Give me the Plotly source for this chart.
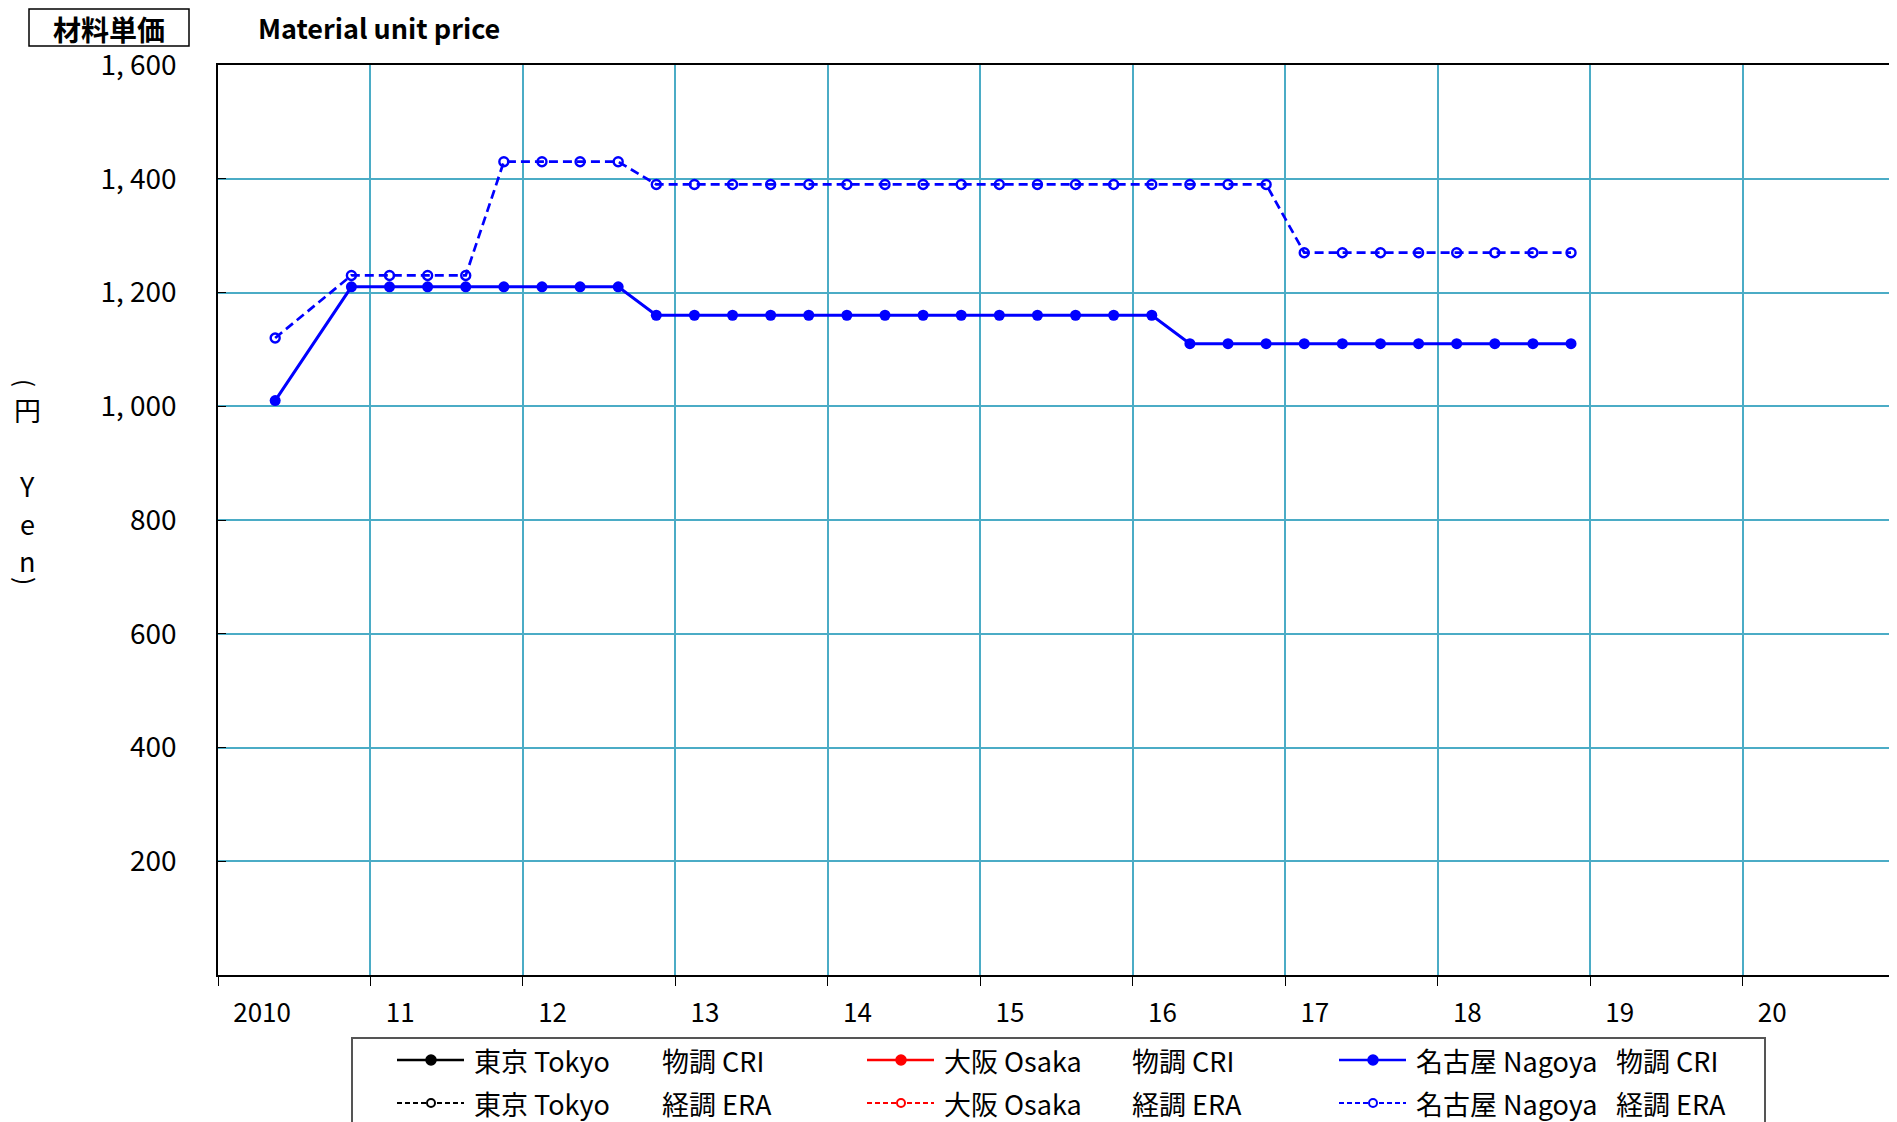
import plotly.graph_objects as go

# ---------------- data ----------------
quarters = ["2010Q2", "2010Q4",
            "2011Q1", "2011Q2", "2011Q3", "2011Q4",
            "2012Q1", "2012Q2", "2012Q3", "2012Q4",
            "2013Q1", "2013Q2", "2013Q3", "2013Q4",
            "2014Q1", "2014Q2", "2014Q3", "2014Q4",
            "2015Q1", "2015Q2", "2015Q3", "2015Q4",
            "2016Q1", "2016Q2", "2016Q3", "2016Q4",
            "2017Q1", "2017Q2", "2017Q3", "2017Q4",
            "2018Q1", "2018Q2", "2018Q3", "2018Q4"]

nagoya_cri = [1010, 1210,
              1210, 1210, 1210, 1210,
              1210, 1210, 1210, 1160,
              1160, 1160, 1160, 1160,
              1160, 1160, 1160, 1160,
              1160, 1160, 1160, 1160,
              1160, 1110, 1110, 1110,
              1110, 1110, 1110, 1110,
              1110, 1110, 1110, 1110]

nagoya_era = [1120, 1230,
              1230, 1230, 1230, 1430,
              1430, 1430, 1430, 1390,
              1390, 1390, 1390, 1390,
              1390, 1390, 1390, 1390,
              1390, 1390, 1390, 1390,
              1390, 1390, 1390, 1390,
              1270, 1270, 1270, 1270,
              1270, 1270, 1270, 1270]

tokyo_cri = []
tokyo_era = []
osaka_cri = []
osaka_era = []

year_ticks = [2010, 2011, 2012, 2013, 2014, 2015, 2016, 2017, 2018, 2019, 2020, 2021]
year_labels = ["2010", "11", "12", "13", "14", "15", "16", "17", "18", "19", "20", ""]

y_ticks = [200, 400, 600, 800, 1000, 1200, 1400, 1600]
y_tick_labels = ["200", "400", "600", "800", "1, 000", "1, 200", "1, 400", "1, 600"]

places = ["東京 Tokyo", "大阪 Osaka", "名古屋 Nagoya"]
kinds = ["物調 CRI", "経調 ERA"]

# ---------------- helpers ----------------
def q_to_x(q):
    year = int(q[:4])
    qn = int(q[-1])
    return year + (qn - 0.5) / 4.0

FONT = "Noto Sans CJK JP"
GRID = "#4BACC6"
OFF = 8                      # page body margin
W, H = 1897 - OFF, 1122 - OFF
ML, MR, MT, MB = 218 - OFF, 2, 65 - OFF, 147
PW, PH = W - ML - MR, H - MT - MB


def pxx(x):                  # page pixel x -> paper
    return (x - OFF - ML) / PW


def pxy(y):                  # page pixel y -> paper
    return (H - MB - (y - OFF)) / PH


xq = [q_to_x(q) for q in quarters]

fig = go.Figure()

series = [
    ("東京 Tokyo 物調 CRI", tokyo_cri, "black", "solid"),
    ("大阪 Osaka 物調 CRI", osaka_cri, "red", "solid"),
    ("東京 Tokyo 経調 ERA", tokyo_era, "black", "dash"),
    ("大阪 Osaka 経調 ERA", osaka_era, "red", "dash"),
    ("名古屋 Nagoya 経調 ERA", nagoya_era, "blue", "dash"),
    ("名古屋 Nagoya 物調 CRI", nagoya_cri, "blue", "solid"),
]

for name, vals, col, style in series:
    xs = xq[:len(vals)]
    if style == "solid":
        fig.add_trace(go.Scatter(
            x=xs, y=vals, name=name, mode="lines+markers",
            line=dict(color=col, width=3),
            marker=dict(color=col, size=11, symbol="circle"),
            showlegend=False))
    else:
        fig.add_trace(go.Scatter(
            x=xs, y=vals, name=name, mode="lines+markers",
            line=dict(color=col, width=2.7, dash="9px,5px"),
            marker=dict(color=col, size=9, symbol="circle-open",
                        line=dict(color=col, width=2.4)),
            showlegend=False))

# ---------------- axes ----------------
fig.update_layout(
    width=W, height=H,
    margin=dict(l=ML, r=MR, t=MT, b=MB, autoexpand=False),
    paper_bgcolor="white", plot_bgcolor="white",
    font=dict(family=FONT, color="black"),
    xaxis=dict(range=[2010, 2021], tickmode="array", tickvals=year_ticks,
               ticktext=year_labels, ticks="outside", ticklen=9,
               tickcolor="black", tickwidth=1,
               showline=True, linecolor="black", linewidth=1.5, mirror=True,
               showgrid=True, gridcolor=GRID, gridwidth=1.5, zeroline=False,
               tickfont=dict(family=FONT, size=26, color="black"),
               ticklabelposition="outside right", ticklabelshift=14,
               ticklabelstandoff=14),
    xaxis2=dict(range=[2010, 2021], overlaying="x", anchor="y", side="bottom",
                tickmode="array", tickvals=year_ticks, ticks="inside",
                ticklen=10, tickcolor="black", tickwidth=1,
                showticklabels=False, showgrid=False, zeroline=False,
                showline=False),
    yaxis=dict(range=[0, 1600], tickmode="array", tickvals=y_ticks,
               ticktext=y_tick_labels, ticks="inside", ticklen=8,
               tickcolor="black", tickwidth=1,
               showline=True, linecolor="black", linewidth=1.5, mirror=True,
               showgrid=True, gridcolor=GRID, gridwidth=1.5, zeroline=False,
               tickfont=dict(family=FONT, size=28, color="black"),
               ticklabelstandoff=34),
)

# ---------------- titles ----------------
ann = []
shapes = []
# boxed Japanese title
shapes.append(dict(type="rect", xref="paper", yref="paper",
                   x0=pxx(29), x1=pxx(189), y0=pxy(9), y1=pxy(46),
                   line=dict(color="black", width=1.5), fillcolor="rgba(0,0,0,0)"))
ann.append(dict(text="<b>材料単価</b>", x=pxx(109), y=pxy(29.5),
                xref="paper", yref="paper", showarrow=False,
                xanchor="center", yanchor="middle",
                font=dict(family=FONT, size=28, color="black")))
ann.append(dict(text="<b>Material unit price</b>", x=pxx(256), y=pxy(28),
                xref="paper", yref="paper", showarrow=False,
                xanchor="left", yanchor="middle",
                font=dict(family=FONT, size=27, color="black")))

# vertical y-axis title: （円 Yen）
ytitle = [("(", 383, 90, 24), ("円", 409, 0, 27), ("Y", 485, 0, 27),
          ("e", 523, 0, 27), ("n", 560, 0, 27), (")", 581, 90, 24)]
for ch, yy, ang, sz in ytitle:
    ann.append(dict(text=ch, x=pxx(27), y=pxy(yy), xref="paper", yref="paper",
                    showarrow=False, xanchor="center", yanchor="middle",
                    textangle=ang,
                    font=dict(family=FONT, size=sz, color="black")))

# ---------------- legend (drawn) ----------------
shapes.append(dict(type="rect", xref="paper", yref="paper",
                   x0=pxx(352), x1=pxx(1765), y0=pxy(1038), y1=pxy(1160),
                   line=dict(color="#555555", width=2), fillcolor="white",
                   layer="above"))

col_x = [397, 867, 1339]
row_y = [1060, 1103]
kind_off = [188, 188, 200]
colors = ["black", "red", "blue"]
for r, kind in enumerate(kinds):
    for c, place in enumerate(places):
        x0 = col_x[c]
        yy = row_y[r]
        colr = colors[c]
        shapes.append(dict(type="line", xref="paper", yref="paper",
                           x0=pxx(x0), x1=pxx(x0 + 67), y0=pxy(yy), y1=pxy(yy),
                           line=dict(color=colr, width=2.6 if r == 0 else 2,
                                     dash="solid" if r == 0 else "5px,3px"),
                           layer="above"))
        rad = 5 if r == 0 else 4
        shapes.append(dict(type="circle", xref="paper", yref="paper",
                           xsizemode="pixel", ysizemode="pixel",
                           xanchor=pxx(x0 + 34), yanchor=pxy(yy),
                           x0=-rad, x1=rad, y0=-rad, y1=rad,
                           fillcolor=colr if r == 0 else "white",
                           line=dict(color=colr, width=1.5 if r == 0 else 2),
                           layer="above"))
        tx = x0 + 75
        ann.append(dict(text=place, x=pxx(tx), y=pxy(yy), xref="paper",
                        yref="paper", showarrow=False, xanchor="left",
                        yanchor="middle",
                        font=dict(family=FONT, size=27, color="black")))
        ann.append(dict(text=kind, x=pxx(tx + kind_off[c]), y=pxy(yy),
                        xref="paper", yref="paper", showarrow=False,
                        xanchor="left", yanchor="middle",
                        font=dict(family=FONT, size=27, color="black")))

fig.update_layout(annotations=ann, shapes=shapes, showlegend=False)

fig.write_html("out.html")
